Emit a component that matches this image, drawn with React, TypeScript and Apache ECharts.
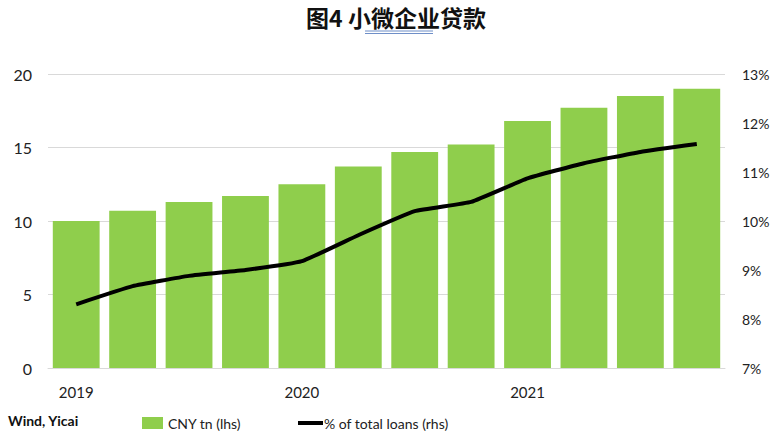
import { useRef, useEffect } from "react"
import * as echarts from "echarts"

const quarters = [
  "2019Q1", "2019Q2", "2019Q3", "2019Q4",
  "2020Q1", "2020Q2", "2020Q3", "2020Q4",
  "2021Q1", "2021Q2", "2021Q3", "2021Q4",
]
const loansCny = [10.0, 10.7, 11.3, 11.7, 12.5, 13.7, 14.7, 15.2, 16.8, 17.7, 18.5, 19.0]
const shareOfTotal = [8.3, 8.67, 8.88, 9.0, 9.18, 9.71, 10.2, 10.39, 10.87, 11.18, 11.41, 11.57]

const barName = "CNY tn (lhs)"
const lineName = "% of total loans (rhs)"
const font = "Lato, 'Open Sans', sans-serif"

export default function App() {
  const chartRef = useRef<HTMLDivElement>(null)

  useEffect(() => {
    if (!chartRef.current) return
    document.body.style.margin = "0"
    const chart = echarts.init(chartRef.current, undefined, { renderer: "svg" })

    chart.setOption({
      animation: false,
      title: {
        text: "图4 小微企业贷款",
        left: 391,
        textAlign: "center",
        top: 0,
        textStyle: {
          fontFamily: "'Noto Sans CJK SC', sans-serif",
          fontWeight: "bold",
          fontSize: 23,
          color: "#111",
        },
      },
      graphic: [
        { type: "line", shape: { x1: 365, y1: 31, x2: 433, y2: 31 }, style: { stroke: "#6f8fc8", lineWidth: 1 } },
        { type: "line", shape: { x1: 365, y1: 33.5, x2: 433, y2: 33.5 }, style: { stroke: "#6f8fc8", lineWidth: 1 } },
        {
          type: "text",
          left: 8,
          top: 413,
          style: { text: "Wind, Yicai", font: `bold 14px ${font}`, fill: "#111" },
        },
      ],
      grid: { left: 48, right: 52, top: 74, bottom: 69 },
      legend: [
        {
          data: [{ name: barName, icon: "rect" }],
          left: 137,
          top: 411,
          itemWidth: 21,
          itemHeight: 12,
          textStyle: { fontFamily: font, fontSize: 14, color: "#222" },
        },
        {
          data: [{ name: lineName, icon: "rect" }],
          left: 293,
          top: 411,
          itemWidth: 25,
          itemHeight: 4,
          textStyle: { fontFamily: font, fontSize: 14, color: "#222", padding: [0, 0, 0, -4] },
        },
      ],
      xAxis: {
        type: "category",
        data: quarters,
        axisLine: { lineStyle: { color: "#d9d9d9" } },
        axisTick: { show: false },
        axisLabel: {
          interval: (i: number) => i % 4 === 0,
          formatter: (v: string) => v.slice(0, 4),
          fontFamily: font,
          fontSize: 15,
          color: "#222",
          margin: 16,
        },
      },
      yAxis: [
        {
          type: "value",
          min: 0,
          max: 20,
          interval: 5,
          axisLine: { show: false },
          axisTick: { show: false },
          splitLine: { lineStyle: { color: "#d9d9d9" } },
          axisLabel: { fontFamily: font, fontSize: 16, color: "#222", margin: 16 },
        },
        {
          type: "value",
          min: 7,
          max: 13,
          interval: 1,
          position: "right",
          axisLine: { show: false },
          axisTick: { show: false },
          splitLine: { show: false },
          axisLabel: { formatter: "{value}%", fontFamily: font, fontSize: 14, color: "#222", margin: 17 },
        },
      ],
      series: [
        {
          name: barName,
          type: "bar",
          data: loansCny,
          barCategoryGap: "17%",
          itemStyle: { color: "#8fce4c" },
        },
        {
          name: lineName,
          type: "line",
          yAxisIndex: 1,
          data: shareOfTotal,
          symbol: "none",
          smooth: 0.12,
          lineStyle: { color: "#000", width: 4 },
          itemStyle: { color: "#000" },
        },
      ],
    })

    return () => chart.dispose()
  }, [])

  return <div ref={chartRef} style={{ width: 777, height: 437 }} />
}
